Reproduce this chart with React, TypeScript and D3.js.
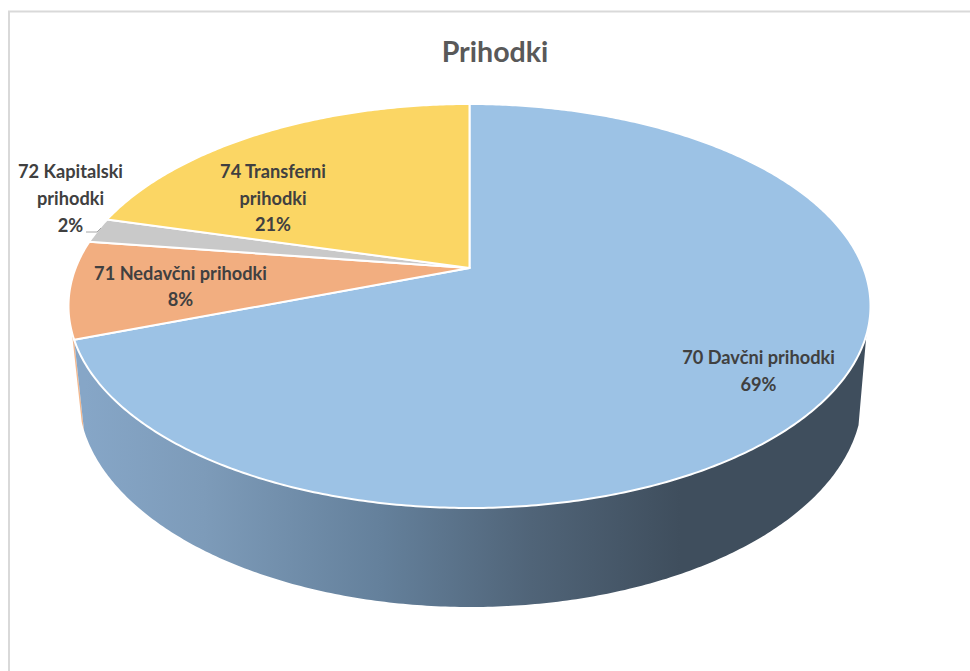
import React from 'react';
import * as d3 from 'd3';

// Data
const categories = ['70 Davčni prihodki', '71 Nedavčni prihodki', '72 Kapitalski prihodki', '74 Transferni prihodki'];
const values = [69.4, 7.8, 2.0, 20.8];
const percentLabels = ['69%', '8%', '2%', '21%'];
const topColors = ['#9cc2e5', '#f2ae80', '#c9c9c9', '#fbd664'];
const labelLines = [
  ['70 Davčni prihodki', '69%'],
  ['71 Nedavčni prihodki', '8%'],
  ['72 Kapitalski', 'prihodki', '2%'],
  ['74 Transferni', 'prihodki', '21%'],
];
const labelX = [758.5, 180.5, 70.5, 273];
const labelY = [[364, 391], [280, 306], [178, 205, 232], [178, 205, 231]];
const title = 'Prihodki';

const width = 970;
const height = 671;
const font = 'Lato, Carlito, "Open Sans", sans-serif';

// Perspective: the unit circle is projected on an ellipse, pie centre is off the ellipse centre
type Plane = { cx: number; apexY: number; rx: number; top: number; bottom: number };
const topPlane: Plane = { cx: 469.5, apexY: 268, rx: 401, top: 104, bottom: 508 };
const bottomPlane: Plane = { cx: 470.5, apexY: 355, rx: 392, top: 183, bottom: 607 };

const project = (plane: Plane, a: number): [number, number] => {
  const up = plane.apexY - plane.top;
  const down = plane.bottom - plane.apexY;
  const k = (down - up) / (down + up);
  const p = up * (1 + k);
  const s = plane.rx * Math.sqrt(1 - k * k);
  const u = Math.sin(a);
  const v = Math.cos(a);
  const w = 1 + k * v;
  return [plane.cx + (s * u) / w, plane.apexY - (p * v) / w];
};

const arcPoints = (plane: Plane, a0: number, a1: number) => {
  const n = Math.max(2, Math.ceil(Math.abs(a1 - a0) / 0.01));
  const angle = d3.scaleLinear().domain([0, n]).range([a0, a1]);
  return d3.range(n + 1).map((i) => project(plane, angle(i)));
};

const line = d3.line();
const slices = d3.pie<number>().sort(null)(values);

const rad = (deg: number) => (deg * Math.PI) / 180;
// where the side wall leaves the top ellipse on the right / left
const wallStart = rad(108.8);
const orangeWallEnd = rad(252);

const wallPath = (a0: number, a1: number) =>
  line([...arcPoints(topPlane, a0, a1), ...arcPoints(bottomPlane, a1, a0)]) + 'Z';

const App = () => {
  const blue = slices[0];
  const apex: [number, number] = [topPlane.cx, topPlane.apexY];
  return (
    <svg
      width={width}
      height={height}
      viewBox={`0 0 ${width} ${height}`}
      style={{ position: 'absolute', left: 0, top: 0, display: 'block', background: '#fff' }}
    >
      <defs>
        <linearGradient id="wall" gradientUnits="userSpaceOnUse" x1="85" x2="680" y1="0" y2="0">
          <stop offset="0" stopColor="#86a6c7" />
          <stop offset="0.2" stopColor="#7d9bb9" />
          <stop offset="0.5" stopColor="#64809b" />
          <stop offset="0.75" stopColor="#506478" />
          <stop offset="1" stopColor="#3f4e5d" />
        </linearGradient>
      </defs>

      {/* frame */}
      <path d="M9,671V11.5H970" fill="none" stroke="#d9d9d9" strokeWidth={2} />

      <text
        x={495}
        y={61.5}
        textAnchor="middle"
        fontFamily={font}
        fontWeight={700}
        fontSize={28.6}
        fill="#595959"
      >
        {title}
      </text>

      {/* side walls */}
      <path d={wallPath(blue.endAngle, orangeWallEnd)} fill="#f2b88f" />
      <path d={wallPath(wallStart, blue.endAngle)} fill="url(#wall)" />

      {/* top faces */}
      {slices.map((d, i) => (
        <path
          key={categories[i]}
          d={line([apex, ...arcPoints(topPlane, d.startAngle, d.endAngle)]) + 'Z'}
          fill={topColors[i]}
          stroke="#fff"
          strokeWidth={2}
          strokeLinejoin="round"
        />
      ))}

      {/* leader line for 72 */}
      <path d="M86,232H97L101,228" fill="none" stroke="#a6a6a6" strokeWidth={1} />

      {labelLines.map((lines, i) => (
        <text
          key={percentLabels[i]}
          textAnchor="middle"
          fontFamily={font}
          fontWeight={700}
          fontSize={18.2}
          fill="#404040"
        >
          {lines.map((t, j) => (
            <tspan key={j} x={labelX[i]} y={labelY[i][j]}>
              {t}
            </tspan>
          ))}
        </text>
      ))}
    </svg>
  );
};

export default App;
